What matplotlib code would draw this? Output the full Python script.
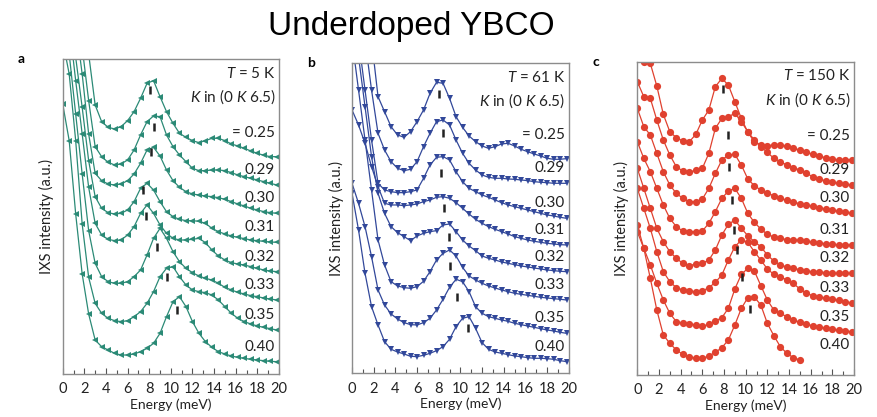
import matplotlib.pyplot as plt
from matplotlib.ticker import MultipleLocator

plt.rcParams['font.family'] = 'Lato'
plt.rcParams['mathtext.fontset'] = 'custom'
plt.rcParams['mathtext.rm'] = 'Lato'
plt.rcParams['mathtext.it'] = 'Lato:italic'

# energy grid (meV)
energy = [0.0, 0.6, 1.2, 1.8, 2.4, 3.0, 3.6, 4.2, 4.8, 5.4, 6.0, 6.6, 7.2, 7.8, 8.4, 9.0, 9.6,
          10.2, 10.8, 11.4, 12.0, 12.6, 13.2, 13.8, 14.4, 15.0, 15.6, 16.2, 16.8, 17.4, 18.0,
          18.6, 19.2, 19.8]
k_labels = ['= 0.25', '0.29', '0.30', '0.31', '0.32', '0.33', '0.35', '0.40']

# a: T = 5 K  (stacked IXS spectra, a.u.)
a_025 = [1700, 1550, 1400, 1200, 960, 807, 757, 740, 735, 742, 760, 787, 827, 872, 880, 832, 787,
         752, 722, 710, 700, 694, 700, 707, 707, 700, 690, 684, 677, 669, 662, 656, 652, 652]
a_029 = [1500, 1350, 1150, 980, 820, 682, 652, 635, 627, 630, 642, 672, 717, 757, 774, 772, 717,
         682, 657, 637, 617, 610, 610, 612, 612, 610, 604, 597, 592, 587, 582, 577, 572, 567]
a_030 = [1400, 1250, 1050, 900, 720, 602, 580, 570, 567, 570, 580, 600, 632, 672, 680, 654, 612,
         580, 560, 547, 540, 537, 534, 532, 529, 524, 517, 510, 504, 497, 492, 487, 484, 482]
a_031 = [1300, 1150, 950, 800, 640, 532, 497, 484, 480, 482, 492, 517, 557, 572, 552, 517, 487,
         472, 464, 460, 460, 458, 452, 437, 427, 420, 414, 410, 406, 402, 400, 398, 396, 395]
a_032 = [1200, 1050, 880, 720, 560, 452, 417, 404, 400, 402, 417, 442, 482, 507, 482, 447, 422,
         407, 402, 402, 404, 407, 394, 372, 354, 342, 334, 330, 327, 322, 317, 312, 309, 307]
a_033 = [1100, 960, 780, 600, 430, 332, 292, 277, 272, 272, 277, 292, 312, 357, 407, 437, 407,
         367, 337, 317, 304, 294, 287, 282, 272, 260, 252, 245, 240, 235, 232, 228, 225, 222]
a_035 = [1000, 900, 700, 450, 290, 212, 182, 167, 160, 157, 160, 172, 187, 212, 247, 292, 317,
         322, 292, 267, 252, 247, 244, 237, 222, 202, 182, 167, 157, 150, 144, 140, 136, 132]
a_040 = [810, 700, 480, 300, 180, 102, 82, 72, 62, 57, 57, 60, 67, 77, 92, 122, 172,
         217, 232, 202, 157, 122, 97, 80, 67, 60, 54, 50, 47, 44, 42, 40, 38, 37]
a_peak_e = [8.06, 8.46, 8.12, 7.45, 7.66, 8.68, 9.66, 10.6]
a_peak_h = [852, 740, 667, 552, 475, 380, 292, 192]

# b: T = 61 K
b_025 = [1500, 1350, 1200, 1000, 830, 785, 740, 715, 708, 725, 755, 790, 840, 873, 870, 825, 770,
         738, 712, 695, 682, 675, 680, 688, 690, 682, 672, 665, 658, 652, 645, 642, 642, 644]
b_029 = [1300, 1150, 1000, 850, 720, 670, 635, 615, 608, 612, 635, 680, 720, 755, 760, 745, 700,
         660, 630, 610, 595, 588, 585, 585, 583, 582, 580, 578, 575, 573, 572, 570, 570, 570]
b_030 = [1150, 1000, 850, 700, 570, 550, 545, 542, 542, 545, 550, 585, 625, 648, 650, 640, 605,
         575, 555, 545, 535, 528, 520, 512, 505, 500, 495, 490, 485, 480, 475, 472, 468, 465]
b_031 = [790, 745, 690, 620, 560, 510, 505, 505, 503, 505, 508, 515, 520, 528, 530, 525, 512,
         495, 478, 462, 450, 440, 432, 425, 418, 410, 405, 400, 396, 393, 390, 388, 386, 385]
b_032 = [1100, 950, 800, 650, 540, 480, 440, 422, 410, 398, 412, 420, 425, 428, 445, 448, 425,
         400, 382, 368, 352, 345, 340, 334, 330, 326, 322, 319, 316, 313, 310, 308, 306, 305]
b_033 = [1000, 850, 700, 550, 400, 325, 275, 262, 257, 255, 260, 276, 305, 340, 360, 370, 352,
         318, 292, 280, 270, 262, 256, 250, 245, 240, 237, 234, 231, 228, 226, 224, 222, 220]
b_035 = [570, 510, 440, 350, 250, 205, 178, 163, 152, 146, 145, 152, 165, 190, 222, 258, 282,
         275, 245, 200, 180, 170, 165, 160, 156, 150, 146, 142, 138, 134, 130, 127, 123, 120]
b_040 = [540, 430, 300, 200, 145, 95, 72, 64, 58, 51, 50, 54, 60, 68, 80, 102, 140,
         165, 170, 135, 92, 72, 64, 60, 56, 52, 50, 47, 45, 45, 44, 42, 38, 35]
b_peak_e = [8.03, 8.43, 8.18, 8.49, 8.98, 9.05, 9.72, 10.74]
b_peak_h = [837, 720, 600, 495, 410, 322, 230, 135]

# c: T = 150 K
c_025 = [960, 940, 935, 867, 782, 730, 712, 702, 700, 722, 765, 795, 865, 890, 870, 820, 770,
         728, 700, 690, 688, 690, 690, 686, 680, 675, 668, 662, 656, 652, 648, 645, 645, 646]
c_029 = [880, 835, 830, 765, 705, 660, 625, 612, 608, 615, 620, 665, 740, 770, 775, 785, 760,
         730, 705, 685, 668, 650, 640, 630, 622, 615, 605, 595, 588, 582, 578, 575, 572, 570]
c_030 = [800, 745, 720, 665, 610, 570, 545, 530, 520, 520, 528, 560, 605, 645, 660, 662, 630,
         588, 568, 555, 545, 538, 530, 524, 518, 514, 510, 506, 502, 498, 494, 491, 488, 485]
c_031 = [700, 650, 610, 560, 510, 470, 445, 432, 430, 430, 432, 455, 490, 530, 552, 560, 530,
         485, 458, 438, 422, 414, 410, 406, 405, 404, 401, 398, 396, 394, 392, 391, 390, 390]
c_032 = [620, 560, 500, 440, 400, 370, 350, 335, 328, 333, 335, 345, 375, 420, 452, 465, 440,
         418, 400, 385, 360, 342, 330, 324, 320, 316, 312, 310, 309, 307, 305, 305, 305, 305]
c_033 = [560, 500, 440, 370, 310, 280, 262, 255, 252, 250, 252, 262, 278, 300, 345, 385, 405,
         398, 370, 345, 318, 302, 295, 285, 275, 258, 245, 238, 234, 230, 227, 224, 220, 216]
c_035 = [430, 380, 330, 275, 225, 185, 160, 156, 154, 150, 146, 152, 162, 172, 200, 258, 302,
         320, 312, 268, 225, 195, 185, 175, 165, 158, 152, 148, 144, 140, 137, 134, 132, 130]
c_040 = [450, 380, 290, 195, 120, 95, 75, 62, 55, 50, 50, 57, 68, 82, 105, 150, 200,
         232, 234, 210, 155, 118, 85, 65, 52, 45]
c_peak_e = [7.88, 8.34, 8.46, 8.77, 8.95, 9.17, 9.66, 10.4]
c_peak_h = [857, 720, 623, 525, 435, 375, 295, 197]

panels = [
    ([0.0715, 0.1031, 0.2466, 0.7547], 'a', '$T$ = 5 K',
     [a_025, a_029, a_030, a_031, a_032, a_033, a_035, a_040], a_peak_e, a_peak_h,
     '#2b8a76', '<', 4.8, 944),
    ([0.4014, 0.1048, 0.2471, 0.7434], 'b', '$T$ = 61 K',
     [b_025, b_029, b_030, b_031, b_032, b_033, b_035, b_040], b_peak_e, b_peak_h,
     '#32489a', 'v', 4.8, 930),
    ([0.7267, 0.1007, 0.2471, 0.7513], 'c', '$T$ = 150 K',
     [c_025, c_029, c_030, c_031, c_032, c_033, c_035, c_040], c_peak_e, c_peak_h,
     '#e0412f', 'o', 5.2, 940),
]

fig = plt.figure(figsize=(8.77, 4.17), dpi=100)
fig.text(0.469, 0.916, 'Underdoped YBCO', ha='center', va='baseline', fontsize=24,
         family='Liberation Sans')

for pos, letter, temp, curves, pk_e, pk_h, col, mk, ms, top in panels:
    ax = fig.add_axes(pos)
    for i, (y, lab) in enumerate(zip(curves, k_labels)):
        ax.plot(energy[:len(y)], y, color=col, marker=mk, ms=ms, mew=0, lw=0.9)
        ax.text(19.6, y[-1] + (70 if i == 0 else 45), lab, ha='right', va='center', fontsize=11,
                color='#222222')
    ax.vlines(pk_e, [h - 12 for h in pk_h], [h + 12 for h in pk_h], color='#222222', lw=1.8)
    ax.text(0.985, 0.955, temp, transform=ax.transAxes, ha='right', va='center', fontsize=11,
            color='#222222')
    ax.text(0.985, 0.88, '$K$ in (0 $K$ 6.5)', transform=ax.transAxes, ha='right', va='center',
            fontsize=11, color='#222222')
    ax.set_xlim(0, 20)
    ax.set_ylim(0, top)
    ax.set_yticks([])
    ax.xaxis.set_major_locator(MultipleLocator(2))
    ax.xaxis.set_minor_locator(MultipleLocator(1))
    ax.tick_params(axis='x', which='both', direction='in', colors='#555555', labelcolor='#222222',
                   labelsize=10.5, pad=6)
    ax.tick_params(axis='x', which='major', length=4, width=0.8)
    ax.tick_params(axis='x', which='minor', length=3, width=0.8)
    for s in ax.spines.values():
        s.set_color('#8c8c8c')
        s.set_linewidth(1.0)
    ax.set_xlabel('Energy (meV)', fontsize=10, labelpad=1.5, color='#222222')
    ax.set_ylabel('IXS intensity (a.u.)', fontsize=10.5, labelpad=6, color='#222222')
    ax.text(-0.19, 1.0, letter, transform=ax.transAxes, fontsize=10, fontweight='bold',
            ha='center', va='center')

fig.savefig('out.png', dpi=100)
